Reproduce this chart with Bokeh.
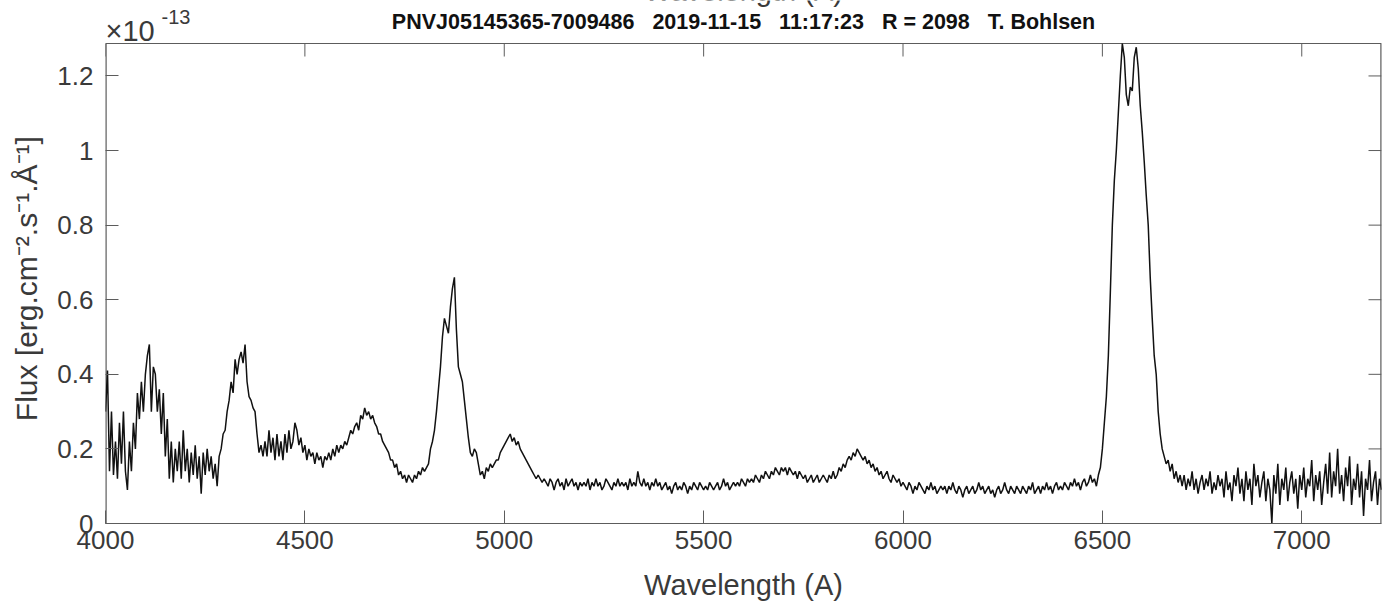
import numpy as np
from bokeh.plotting import figure
from bokeh.models import Range1d, LinearAxis, FixedTicker, Label
from bokeh.embed import file_html
from bokeh.resources import INLINE

# ---- data (flux in units of 1e-13 erg/cm2/s/A), sampled every 5 A from 4000 A ----
wl_start = 4000
wl_step = 5
flux = [
    # 4000-4095
    0.30, 0.41, 0.14, 0.30, 0.13, 0.22, 0.12, 0.27, 0.16, 0.30, 0.14, 0.09, 0.22, 0.14, 0.27, 0.20, 0.35, 0.28, 0.38, 0.30,
    # 4100-4195
    0.40, 0.45, 0.48, 0.30, 0.42, 0.40, 0.30, 0.36, 0.24, 0.35, 0.18, 0.28, 0.12, 0.22, 0.11, 0.20, 0.14, 0.22, 0.12, 0.25,
    # 4200-4295
    0.14, 0.20, 0.11, 0.19, 0.13, 0.21, 0.12, 0.18, 0.08, 0.19, 0.13, 0.20, 0.14, 0.18, 0.12, 0.16, 0.10, 0.18, 0.20, 0.24,
    # 4300-4395
    0.25, 0.30, 0.33, 0.38, 0.35, 0.44, 0.40, 0.44, 0.46, 0.43, 0.48, 0.38, 0.34, 0.33, 0.31, 0.30, 0.24, 0.19, 0.21, 0.18,
    # 4400-4495
    0.22, 0.18, 0.25, 0.19, 0.23, 0.17, 0.24, 0.18, 0.22, 0.17, 0.24, 0.19, 0.25, 0.20, 0.22, 0.27, 0.25, 0.21, 0.23, 0.19,
    # 4500-4595
    0.21, 0.17, 0.20, 0.18, 0.19, 0.16, 0.19, 0.17, 0.18, 0.15, 0.18, 0.17, 0.19, 0.17, 0.20, 0.18, 0.21, 0.19, 0.21, 0.20,
    # 4600-4695
    0.22, 0.21, 0.23, 0.25, 0.24, 0.26, 0.27, 0.25, 0.29, 0.28, 0.31, 0.29, 0.30, 0.28, 0.29, 0.27, 0.26, 0.24, 0.24, 0.22,
    # 4700-4795
    0.21, 0.20, 0.19, 0.17, 0.17, 0.15, 0.16, 0.13, 0.14, 0.12, 0.13, 0.11, 0.13, 0.12, 0.11, 0.13, 0.12, 0.14, 0.13, 0.15,
    # 4800-4895
    0.14, 0.15, 0.16, 0.20, 0.22, 0.25, 0.30, 0.36, 0.42, 0.50, 0.55, 0.53, 0.51, 0.58, 0.63, 0.66, 0.52, 0.42, 0.40, 0.38,
    # 4900-4995
    0.33, 0.28, 0.23, 0.19, 0.18, 0.20, 0.19, 0.16, 0.13, 0.14, 0.12, 0.15, 0.14, 0.16, 0.15, 0.16, 0.17, 0.17, 0.19, 0.20,
    # 5000-5095
    0.21, 0.22, 0.23, 0.24, 0.22, 0.23, 0.21, 0.22, 0.20, 0.19, 0.18, 0.17, 0.16, 0.15, 0.14, 0.13, 0.12, 0.13, 0.12, 0.11,
    # 5100-5195
    0.12, 0.11, 0.10, 0.12, 0.11, 0.09, 0.11, 0.12, 0.10, 0.11, 0.09, 0.12, 0.10, 0.11, 0.12, 0.10, 0.11, 0.09, 0.11, 0.10,
    # 5200-5295
    0.11, 0.10, 0.12, 0.09, 0.11, 0.10, 0.12, 0.10, 0.11, 0.09, 0.10, 0.12, 0.11, 0.10, 0.09, 0.11, 0.10, 0.12, 0.10, 0.11,
    # 5300-5395
    0.10, 0.11, 0.09, 0.12, 0.10, 0.11, 0.10, 0.14, 0.11, 0.10, 0.12, 0.10, 0.11, 0.09, 0.11, 0.10, 0.12, 0.10, 0.11, 0.09,
    # 5400-5495
    0.10, 0.11, 0.09, 0.10, 0.08, 0.10, 0.11, 0.09, 0.10, 0.09, 0.11, 0.10, 0.08, 0.10, 0.09, 0.11, 0.10, 0.09, 0.11, 0.10,
    # 5500-5595
    0.09, 0.10, 0.09, 0.11, 0.10, 0.09, 0.10, 0.11, 0.09, 0.10, 0.12, 0.10, 0.11, 0.09, 0.10, 0.11, 0.10, 0.11, 0.10, 0.12,
    # 5600-5695
    0.11, 0.10, 0.12, 0.11, 0.12, 0.11, 0.13, 0.12, 0.11, 0.13, 0.12, 0.14, 0.13, 0.12, 0.14, 0.13, 0.15, 0.14, 0.13, 0.15,
    # 5700-5795
    0.14, 0.15, 0.13, 0.15, 0.14, 0.13, 0.14, 0.12, 0.14, 0.13, 0.12, 0.13, 0.11, 0.12, 0.13, 0.11, 0.12, 0.13, 0.11, 0.12,
    # 5800-5895
    0.13, 0.12, 0.11, 0.13, 0.12, 0.14, 0.12, 0.13, 0.15, 0.14, 0.16, 0.15, 0.17, 0.18, 0.17, 0.19, 0.18, 0.20, 0.19, 0.18,
    # 5900-5995
    0.17, 0.18, 0.16, 0.17, 0.15, 0.16, 0.14, 0.15, 0.13, 0.14, 0.12, 0.13, 0.14, 0.12, 0.11, 0.13, 0.12, 0.11, 0.12, 0.10,
    # 6000-6095
    0.11, 0.10, 0.09, 0.11, 0.10, 0.08, 0.10, 0.09, 0.11, 0.10, 0.09, 0.08, 0.10, 0.09, 0.11, 0.09, 0.10, 0.08, 0.09, 0.10,
    # 6100-6195
    0.09, 0.10, 0.08, 0.10, 0.09, 0.11, 0.09, 0.08, 0.10, 0.09, 0.07, 0.09, 0.10, 0.08, 0.09, 0.10, 0.08, 0.09, 0.11, 0.09,
    # 6200-6295
    0.10, 0.08, 0.09, 0.10, 0.08, 0.09, 0.07, 0.09, 0.10, 0.08, 0.09, 0.11, 0.09, 0.08, 0.10, 0.09, 0.08, 0.10, 0.09, 0.08,
    # 6300-6395
    0.10, 0.09, 0.08, 0.10, 0.09, 0.11, 0.08, 0.09, 0.10, 0.08, 0.10, 0.09, 0.11, 0.09, 0.10, 0.08, 0.10, 0.11, 0.09, 0.10,
    # 6400-6495
    0.09, 0.11, 0.10, 0.09, 0.11, 0.10, 0.12, 0.10, 0.11, 0.09, 0.11, 0.12, 0.10, 0.11, 0.13, 0.11, 0.12, 0.10, 0.13, 0.15,
    # 6500-6595
    0.20, 0.27, 0.34, 0.45, 0.62, 0.80, 0.92, 1.00, 1.10, 1.20, 1.287, 1.25, 1.15, 1.12, 1.17, 1.16, 1.25, 1.277, 1.22, 1.12,
    # 6600-6695
    1.05, 0.97, 0.88, 0.80, 0.66, 0.55, 0.45, 0.40, 0.30, 0.24, 0.20, 0.18, 0.16, 0.17, 0.14, 0.16, 0.12, 0.14, 0.11, 0.13,
    # 6700-6795
    0.10, 0.13, 0.09, 0.12, 0.10, 0.14, 0.09, 0.12, 0.08, 0.11, 0.13, 0.09, 0.12, 0.10, 0.14, 0.08, 0.11, 0.09, 0.13, 0.10,
    # 6800-6895
    0.12, 0.07, 0.14, 0.09, 0.11, 0.06, 0.13, 0.10, 0.15, 0.08, 0.12, 0.06, 0.14, 0.09, 0.12, 0.05, 0.16, 0.10, 0.13, 0.07,
    # 6900-6995
    0.11, 0.14, 0.06, 0.12, 0.09, 0.00, 0.13, 0.08, 0.16, 0.05, 0.12, 0.09, 0.15, 0.06, 0.11, 0.14, 0.08, 0.12, 0.04, 0.13,
    # 7000-7095
    0.09, 0.15, 0.07, 0.12, 0.10, 0.17, 0.06, 0.13, 0.09, 0.14, 0.05, 0.11, 0.16, 0.08, 0.19, 0.07, 0.14, 0.10, 0.20, 0.08,
    # 7100-7195
    0.13, 0.06, 0.15, 0.10, 0.18, 0.05, 0.12, 0.09, 0.16, 0.07, 0.14, 0.02, 0.12, 0.09, 0.17, 0.06, 0.11, 0.14, 0.05, 0.12,
    # 7200
    0.09,
]
wavelength = [wl_start + wl_step * i for i in range(len(flux))]

x_ticks = [4000, 4500, 5000, 5500, 6000, 6500, 7000]
y_ticks = [0, 0.2, 0.4, 0.6, 0.8, 1, 1.2]
y_tick_labels = ["0", "0.2", "0.4", "0.6", "0.8", "1", "1.2"]

GAP = "\u00a0\u00a0\u00a0"
title_parts = ["PNVJ05145365-7009486", "2019-11-15", "11:17:23", "R = 2098", "T. Bohlsen"]
title_text = GAP.join(title_parts)
x_label = "Wavelength (A)"
y_label = "Flux [erg.cm\u207b\u00b2.s\u207b\u00b9.\u00c5\u207b\u00b9]"
exp_base = "\u00d710"
exp_power = "-13"

X_MIN, X_MAX = 4000, 7200
Y_MIN, Y_MAX = 0, 1.287

FONT = "Liberation Sans"
TXT = "#3a3a3a"
AX = "#5c5c5c"

W, H = 1389, 605
BOX_LEFT, BOX_RIGHT, BOX_TOP, BOX_BOTTOM = 105, 1381, 43, 523   # axes box in canvas pixels
box_w = BOX_RIGHT - BOX_LEFT
box_h = BOX_BOTTOM - BOX_TOP
ux = (X_MAX - X_MIN) / box_w      # data units per pixel
uy = (Y_MAX - Y_MIN) / box_h
TICK = 13                         # inward tick length, px

# the plotting frame reaches the top of the canvas so the texts above the box can live in it
y_frame_top = Y_MAX + BOX_TOP * uy

def y_at_canvas(yc):
    return Y_MIN + (BOX_BOTTOM - yc) * uy

p = figure(width=W, height=H, x_range=Range1d(X_MIN, X_MAX), y_range=Range1d(Y_MIN, y_frame_top),
           output_backend="svg", toolbar_location=None, x_axis_location=None, y_axis_location=None,
           min_border_left=BOX_LEFT, min_border_right=W - BOX_RIGHT, min_border_top=0,
           min_border_bottom=H - BOX_BOTTOM)
p.grid.visible = False
p.outline_line_color = None
p.background_fill_color = "white"
p.border_fill_color = "white"

def make_axis(ticks, **kw):
    ax = LinearAxis(ticker=FixedTicker(ticks=ticks), **kw)
    ax.axis_line_color = AX
    ax.major_tick_line_color = AX
    ax.major_tick_in = TICK
    ax.major_tick_out = 0
    ax.minor_tick_line_color = None
    ax.major_label_text_font = FONT
    ax.major_label_text_color = TXT
    ax.major_label_text_font_size = "26px"
    ax.axis_label_text_font = FONT
    ax.axis_label_text_font_style = "normal"
    ax.axis_label_text_color = TXT
    return ax

xb = make_axis(x_ticks, axis_label=x_label)
xb.axis_label_text_font_size = "29px"
xb.major_label_standoff = 7
xb.axis_label_standoff = 17
p.add_layout(xb, "below")

# the y label is centred on the whole frame; trailing no-break spaces re-centre it on the box
yl = make_axis(y_ticks, axis_label=y_label + "\u00a0" * 4)
yl.axis_label_text_font_size = "30px"
yl.axis_line_color = None
yl.major_label_overrides = {t: s for t, s in zip(y_ticks, y_tick_labels)}
yl.major_label_standoff = 12
yl.axis_label_standoff = 11
p.add_layout(yl, "left")

# box edges: left/right sit on the frame edge (half clipped, hence double width), top inside
p.line([X_MIN, X_MIN], [Y_MIN, Y_MAX], line_color=AX, line_width=2.4)
p.line([X_MAX, X_MAX], [Y_MIN, Y_MAX], line_color=AX, line_width=2.4)
p.line([X_MIN, X_MAX], [Y_MAX, Y_MAX], line_color=AX, line_width=1.2)

# inward ticks on the top and right sides (mirrors of the bottom/left ticks)
p.segment(x0=x_ticks, y0=[Y_MAX] * len(x_ticks), x1=x_ticks, y1=[Y_MAX - TICK * uy] * len(x_ticks),
          line_color=AX, line_width=1)
p.segment(x0=[X_MAX] * len(y_ticks), y0=y_ticks, x1=[X_MAX - TICK * ux] * len(y_ticks), y1=y_ticks,
          line_color=AX, line_width=1)

p.line(wavelength, flux, line_color="#111111", line_width=1.5)

def top_label(**kw):
    p.add_layout(Label(text_baseline="alphabetic", text_font=FONT, **kw))

# (bokeh draws 'alphabetic' labels ~6px lower than asked, hence the -6)
top_label(x=(X_MIN + X_MAX) / 2, y=y_at_canvas(27 - 6), text=title_text, text_align="center",
          text_font_style="bold", text_font_size="21.5px", text_color="#111111")
top_label(x=X_MIN, y=y_at_canvas(36 - 6), text=exp_base, text_align="left",
          text_font_size="29px", text_color=TXT)
top_label(x=X_MIN, y=y_at_canvas(21 - 5), x_offset=56, text=exp_power, text_align="left",
          text_font_size="20px", text_color=TXT)
top_label(x=(X_MIN + X_MAX) / 2, y=y_at_canvas(-4 - 6), text=x_label, text_align="center",
          text_font_size="29px", text_color=TXT)

open("out.html", "w").write(file_html(p, INLINE))
